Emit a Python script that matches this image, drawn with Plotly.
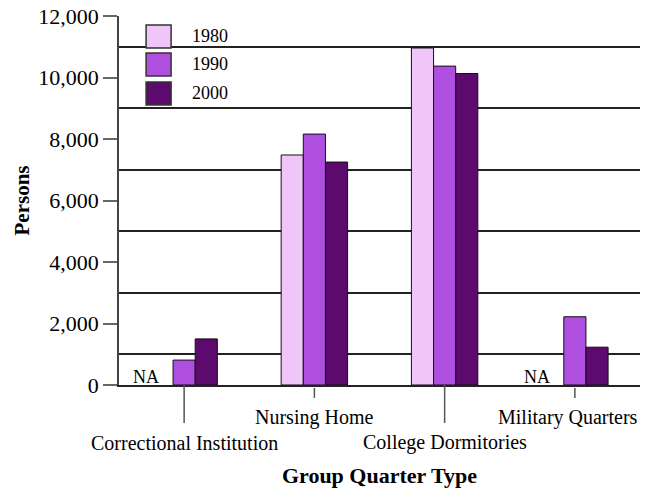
import plotly.graph_objects as go

categories = ["Correctional Institution", "Nursing Home", "College Dormitories", "Military Quarters"]
years = ["1980", "1990", "2000"]
values_1980 = [None, 7480, 10960, None]
values_1990 = [810, 8160, 10370, 2220]
values_2000 = [1500, 7250, 10130, 1230]
colors = ["#F0C6F8", "#AF4FE0", "#5C0A6E"]
label_row = [2, 1, 2, 1]  # 1 = upper row, 2 = lower row
na_flags = [True, False, False, True]
y_ticks = [0, 2000, 4000, 6000, 8000, 10000, 12000]
y_ticktext = ["0", "2,000", "4,000", "6,000", "8,000", "10,000", "12,000"]

FONT = "Liberation Serif"

fig = go.Figure()
for yr, vals, col in zip(years, [values_1980, values_1990, values_2000], colors):
    fig.add_trace(go.Bar(
        name=yr, x=categories, y=vals,
        marker=dict(color=col, line=dict(color="#111111", width=1)),
        showlegend=False,
    ))

shapes = []
annotations = []

# category tick marks and staggered labels
for cat, row in zip(categories, label_row):
    if row == 2:
        shapes.append(dict(type="line", xref="x", yref="paper", x0=cat, x1=cat,
                           y0=0, y1=-0.103, line=dict(color="#555555", width=1.5)))
        ly = -0.157
    else:
        shapes.append(dict(type="line", xref="x", yref="paper", x0=cat, x1=cat,
                           y0=-0.008, y1=-0.035, line=dict(color="#555555", width=1.5)))
        ly = -0.089
    annotations.append(dict(x=cat, y=ly, xref="x", yref="paper", text=cat, showarrow=False,
                            xanchor="center", yanchor="middle",
                            xshift=-7 if cat == "Military Quarters" else 0,
                            font=dict(family=FONT, size=20, color="black")))

# NA labels
for cat, na in zip(categories, na_flags):
    if na:
        annotations.append(dict(x=cat, y=0, xref="x", yref="y", text="NA", showarrow=False,
                                xanchor="center", yanchor="bottom", xshift=-38, yshift=-4,
                                font=dict(family=FONT, size=18, color="black")))

# custom legend
leg_x0, leg_x1 = 0.052, 0.100
leg_tops = [0.9756, 0.8997, 0.8211]
box_h = 0.062
for yr, col, top in zip(years, colors, leg_tops):
    shapes.append(dict(type="rect", xref="paper", yref="paper", x0=leg_x0, x1=leg_x1,
                       y0=top - box_h, y1=top, fillcolor=col,
                       line=dict(color="#333333", width=1.5)))
    annotations.append(dict(x=0.136, y=top - box_h / 2, xref="paper", yref="paper", text=yr,
                            showarrow=False, xanchor="left", yanchor="middle",
                            font=dict(family=FONT, size=18, color="black")))

fig.update_layout(
    width=648, height=491,
    margin=dict(l=111, r=16, t=8, b=114),
    paper_bgcolor="white", plot_bgcolor="white",
    barmode="group", bargap=0.49, bargroupgap=0,
    font=dict(family=FONT, size=20, color="black"),
    shapes=shapes, annotations=annotations,
    xaxis=dict(
        showticklabels=False, ticks="", showgrid=False, zeroline=False,
        showline=True, linecolor="#222222", linewidth=1.5,
        range=[-0.5, 3.5],
        title=dict(text="<b>Group Quarter Type</b>", standoff=82,
                   font=dict(family=FONT, size=22, color="black")),
        automargin=False,
    ),
    yaxis=dict(
        range=[0, 12000], tickvals=y_ticks, ticktext=y_ticktext,
        ticks="outside", ticklen=14, tickwidth=1.5, tickcolor="#666666",
        ticklabeloverflow="allow",
        showgrid=False, zeroline=False,
        showline=True, linecolor="#444444", linewidth=1.5,
        tickfont=dict(family=FONT, size=22, color="black"),
        minor=dict(tick0=1000, dtick=2000, showgrid=True, gridcolor="#222222",
                   gridwidth=1.5, ticks=""),
        title=dict(text="<b>Persons</b>", standoff=3,
                   font=dict(family=FONT, size=21, color="black")),
        automargin=False,
    ),
)

fig.write_html("out.html")
